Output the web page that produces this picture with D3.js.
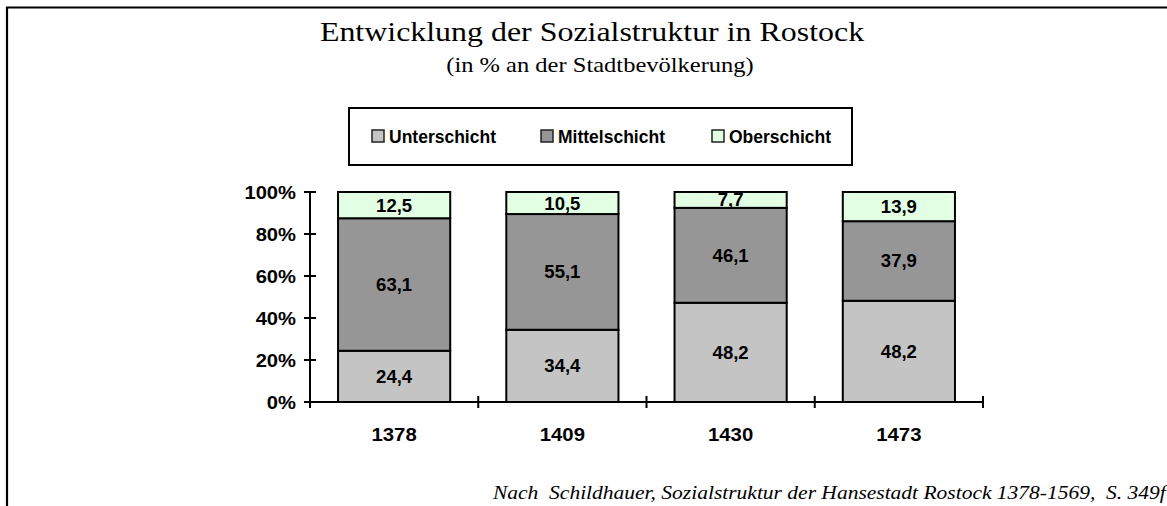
<!DOCTYPE html>
<html>
<head>
    <title></title>
    <script src="https://d3js.org/d3.v7.min.js"></script>
    <style>
        body { margin: 0; background: #fff; }
    </style>
</head>
<body>

    <svg id="chart" width="1167" height="506"></svg>

    <script>

    var years = ["1378", "1409", "1430", "1473"];
    var unterschicht = [24.4, 34.4, 48.2, 48.2];
    var mittelschicht = [63.1, 55.1, 46.1, 37.9];
    var oberschicht = [12.5, 10.5, 7.7, 13.9];
    var seriesNames = ["Unterschicht", "Mittelschicht", "Oberschicht"];
    var yTicks = [0, 0.2, 0.4, 0.6, 0.8, 1];

    var colors = ["#c4c4c4", "#969696", "#e3ffe3"];
    var serif = "'Liberation Serif', 'Times New Roman', serif";
    var sans = "'Liberation Sans', Arial, sans-serif";

    var rows = years.map( (y, i) => ({ year: y, Unterschicht: unterschicht[i],
                                      Mittelschicht: mittelschicht[i], Oberschicht: oberschicht[i] }) );

    var stack = d3.stack().keys(seriesNames).offset(d3.stackOffsetExpand);
    var layers = stack(rows);

    var xSc = d3.scaleBand().domain(years).range([310, 983]).paddingInner(1/3).paddingOuter(1/6);
    var ySc = d3.scaleLinear().domain([0, 1]).range([402, 192]);

    let svg = d3.select("#chart");

    // text with a little horizontal stretch, like the original
    function label(parent, x, y, str, font, size, sx, anchor) {
        return parent.append("text")
            .attr("transform", "translate(" + x + "," + y + ") scale(" + sx + ",1)")
            .attr("text-anchor", anchor || "middle")
            .style("font-family", font).style("font-size", size + "px")
            .text(str);
    }

    // outer frame (only top and left visible)
    svg.append("path").attr("d", "M7,506 V7.5 H1167")
        .attr("fill", "none").attr("stroke", "#000").attr("stroke-width", 2.2);

    // titles
    label(svg, 592, 41, "Entwicklung der Sozialstruktur in Rostock", serif, 28, 1.14);
    label(svg, 600, 72, "(in % an der Stadtbevölkerung)", serif, 21.5, 1.14);

    // legend
    let lg = svg.append("g");
    lg.append("rect").attr("x", 349).attr("y", 108).attr("width", 503).attr("height", 57)
        .attr("fill", "#fff").attr("stroke", "#000").attr("stroke-width", 2);
    var legX = [372, 541, 712];
    seriesNames.forEach( (n, i) => {
        lg.append("rect").attr("x", legX[i]).attr("y", 130).attr("width", 12).attr("height", 12)
            .attr("fill", colors[i]).attr("stroke", "#222").attr("stroke-width", 1.5);
        label(lg, legX[i] + 17, 142.5, n, sans, 17.5, 1.0, "start").style("font-weight", "bold");
    });

    // bars
    let bars = svg.append("g");
    layers.forEach( (layer, li) => {
        bars.append("g").selectAll("rect").data(layer).enter().append("rect")
            .attr("x", d => xSc(d.data.year)).attr("width", xSc.bandwidth())
            .attr("y", d => ySc(d[1])).attr("height", d => ySc(d[0]) - ySc(d[1]))
            .attr("fill", colors[li]).attr("stroke", "#000").attr("stroke-width", 2);
    });

    // value labels
    layers.forEach( layer => {
        layer.forEach( d => {
            label(bars, xSc(d.data.year) + xSc.bandwidth() / 2, (ySc(d[0]) + ySc(d[1])) / 2 + 6.5,
                  String(d.data[layer.key]).replace(".", ","), sans, 17.5, 1.06)
                .style("font-weight", "bold");
        });
    });

    // y axis
    let yAx = svg.append("g");
    yAx.append("line").attr("x1", 310).attr("x2", 310).attr("y1", ySc(0)).attr("y2", ySc(1))
        .attr("stroke", "#000").attr("stroke-width", 2);
    yAx.selectAll("line.t").data(yTicks).enter().append("line").attr("class", "t")
        .attr("x1", 304).attr("x2", 316).attr("y1", d => ySc(d)).attr("y2", d => ySc(d))
        .attr("stroke", "#000").attr("stroke-width", 2);
    yTicks.forEach( t => {
        label(yAx, 296, ySc(t) + 6.5, Math.round(t * 100) + "%", sans, 18, 1.12, "end")
            .style("font-weight", "bold");
    });

    // x axis
    let xAx = svg.append("g");
    var xTickPos = years.map( y => xSc(y) - xSc.step() * xSc.paddingInner() / 2 * 1.5 + 0 );
    xTickPos = [310].concat(years.map( y => xSc(y) + xSc.bandwidth() + (xSc.step() - xSc.bandwidth()) / 2 ));
    xAx.append("line").attr("x1", 310).attr("x2", 983).attr("y1", ySc(0)).attr("y2", ySc(0))
        .attr("stroke", "#000").attr("stroke-width", 2);
    xAx.selectAll("line.t").data(xTickPos).enter().append("line").attr("class", "t")
        .attr("x1", d => d).attr("x2", d => d).attr("y1", ySc(0) - 6).attr("y2", ySc(0) + 6)
        .attr("stroke", "#000").attr("stroke-width", 2);
    years.forEach( y => {
        label(xAx, xSc(y) + xSc.bandwidth() / 2, 440.5, y, sans, 18.5, 1.1).style("font-weight", "bold");
    });

    // source note
    label(svg, 493, 499, "Nach  Schildhauer, Sozialstruktur der Hansestadt Rostock 1378-1569,  S. 349f",
          serif, 18.7, 1.15, "start")
        .style("font-style", "italic").style("white-space", "pre");
    </script>

</body>
</html>
